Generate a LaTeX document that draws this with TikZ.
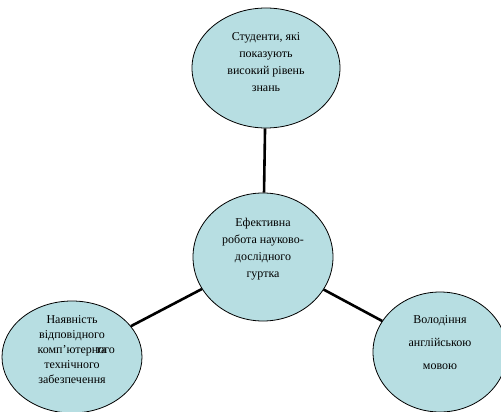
\documentclass[tikz,border=0pt]{standalone}
\usepackage{fontspec}
\setmainfont{Liberation Serif}
\usetikzlibrary{shapes.geometric}
\definecolor{bubble}{RGB}{183,222,226}
\tikzset{
  bub/.style={ellipse, draw=black, line width=0.8pt, fill=bubble, inner sep=0pt},
  txt/.style={align=center, font=\fontsize{12}{17}\selectfont, inner sep=0pt},
  link/.style={line width=2.6pt, black}
}
\begin{document}
\begin{tikzpicture}[x=1pt,y=-1pt]
\useasboundingbox[fill=white] (0,0) rectangle (501,412);
\node[bub, minimum width=148pt, minimum height=120pt] (nt) at (266,68) {};
\node[bub, minimum width=140pt, minimum height=128pt] (nm) at (263,257) {};
\node[bub, minimum width=140pt, minimum height=112pt] (nl) at (72,357) {};
\node[bub, minimum width=134pt, minimum height=120pt] (nr) at (440,352) {};
\draw[link] (nm) -- (nt);
\draw[link] (nm) -- (nl);
\draw[link] (nm) -- (nr);
\node[txt] (tt) at (266,62) {Студенти, які\\показують\\високий рівень\\знань};
\node[txt] (tm) at (263,249) {Ефективна\\робота науково-\\дослідного\\гуртка};
\node[txt, font=\fontsize{12}{15}\selectfont] (tl) at (72,350) {Наявність\\відповідного\\комп’ютерного\kern-1.6em та\\технічного\\забезпечення};
\node[txt, font=\fontsize{12}{23}\selectfont] (tr) at (440,343) {Володіння\\англійською\\мовою};
\end{tikzpicture}
\end{document}
